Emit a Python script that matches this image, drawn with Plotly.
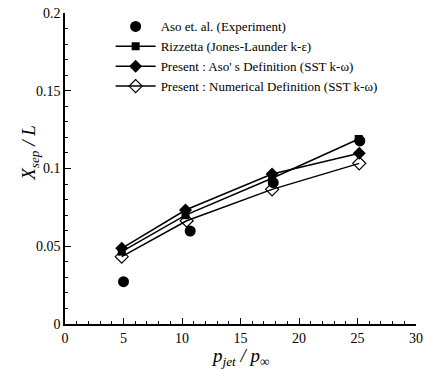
import plotly.graph_objects as go

# Data
exp_x = [5.0, 10.7, 17.8, 25.2]
exp_y = [0.0272, 0.0598, 0.0909, 0.1177]

riz_x = [4.85, 10.3, 17.7, 25.1]
riz_y = [0.0465, 0.0700, 0.0937, 0.1190]

aso_x = [4.85, 10.3, 17.7, 25.15]
aso_y = [0.0487, 0.0733, 0.0965, 0.1098]

num_x = [4.85, 10.4, 17.7, 25.15]
num_y = [0.0433, 0.0664, 0.0866, 0.1033]

names = [
    "Aso et. al. (Experiment)",
    "Rizzetta (Jones-Launder k-ε)",
    "Present : Aso' s Definition (SST k-ω)",
    "Present : Numerical Definition (SST k-ω)",
]

fig = go.Figure()
fig.add_trace(go.Scatter(x=exp_x, y=exp_y, mode="markers", name=names[0],
                         marker=dict(symbol="circle", size=11, color="black")))
fig.add_trace(go.Scatter(x=riz_x, y=riz_y, mode="lines+markers", name=names[1],
                         line=dict(color="black", width=1.5),
                         marker=dict(symbol="square", size=8, color="black")))
fig.add_trace(go.Scatter(x=aso_x, y=aso_y, mode="lines+markers", name=names[2],
                         line=dict(color="black", width=1.5),
                         marker=dict(symbol="diamond", size=10, color="black")))
fig.add_trace(go.Scatter(x=num_x, y=num_y, mode="lines+markers", name=names[3],
                         line=dict(color="black", width=1.5),
                         marker=dict(symbol="diamond-open", size=10, color="black",
                                     line=dict(width=1.2))))

font = "Liberation Serif"
fig.update_layout(
    width=424, height=370,
    margin=dict(l=65, r=8, t=13, b=46, autoexpand=False),
    plot_bgcolor="white", paper_bgcolor="white",
    font=dict(family=font, size=14, color="black"),
    showlegend=True,
    legend=dict(x=0.13, y=1.005, xanchor="left", yanchor="top",
                bgcolor="rgba(0,0,0,0)", font=dict(size=13, family=font),
                tracegroupgap=0, itemwidth=40),
    xaxis=dict(range=[0, 30], tickvals=[0, 5, 10, 15, 20, 25, 30],
               ticks="inside", ticklen=6, tickwidth=1, tickcolor="black",
               minor=dict(dtick=1, ticks="inside", ticklen=3, tickcolor="black"),
               showline=True, linecolor="black", linewidth=1.5,
               showgrid=False, zeroline=False, automargin=False,
               tickfont=dict(size=14, family=font)),
    yaxis=dict(range=[0, 0.2], tickvals=[0, 0.05, 0.1, 0.15, 0.2],
               ticktext=["0", "0.05", "0.1", "0.15", "0.2"],
               ticks="inside", ticklen=6, tickwidth=1, tickcolor="black",
               minor=dict(dtick=0.01, ticks="inside", ticklen=3, tickcolor="black"),
               showline=True, linecolor="black", linewidth=1.5,
               showgrid=False, zeroline=False, automargin=False,
               tickfont=dict(size=14, family=font)),
    annotations=[
        dict(text="<i>p<sub>jet</sub> / p<sub>∞</sub></i>", xref="paper", yref="paper",
             x=0.5, y=-0.105, xanchor="center", yanchor="middle", showarrow=False,
             font=dict(size=19, family=font)),
        dict(text="<i>X<sub>sep</sub> / L</i>", xref="paper", yref="paper",
             x=-0.1, y=0.55, xanchor="center", yanchor="middle", showarrow=False,
             textangle=-90, font=dict(size=19, family=font)),
    ],
)

fig.write_html("out.html")
